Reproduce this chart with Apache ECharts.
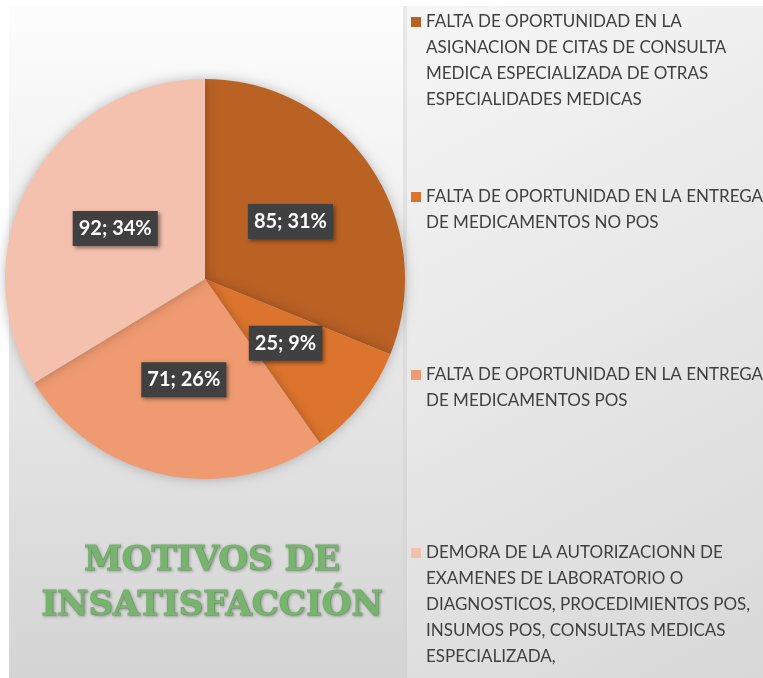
<!DOCTYPE html>
<html>
<head>
<meta charset="utf-8">
<script src="https://cdn.jsdelivr.net/npm/echarts@6/dist/echarts.min.js"></script>
<style>
  html, body { margin: 0; padding: 0; background: #fff; }
  #chart { width: 763px; height: 678px; }
</style>
</head>
<body>
<div id="chart"></div>
<script>
// categorias (cada linea del texto de la leyenda)
var categories = [
  ['FALTA DE OPORTUNIDAD EN LA', 'ASIGNACION DE CITAS DE CONSULTA', 'MEDICA ESPECIALIZADA DE OTRAS', 'ESPECIALIDADES MEDICAS'],
  ['FALTA DE OPORTUNIDAD EN LA ENTREGA', 'DE MEDICAMENTOS NO POS'],
  ['FALTA DE OPORTUNIDAD EN LA ENTREGA', 'DE MEDICAMENTOS POS'],
  ['DEMORA DE LA AUTORIZACIONN DE', 'EXAMENES DE LABORATORIO O', 'DIAGNOSTICOS, PROCEDIMIENTOS POS,', 'INSUMOS POS, CONSULTAS MEDICAS', 'ESPECIALIZADA,']
];
var values = [85, 25, 71, 92];
var colors = ['#BA6124', '#DD742D', '#EF9A70', '#F4C1AF'];
var titleLines = ['MOTIVOS DE', 'INSATISFACCIÓN'];

var names = categories.map(function (c) { return c.join('\n'); });
var legendFirstLine = [22, 197, 375, 553]; // centro de la primera linea
var lineH = 26;

var chart = echarts.init(document.getElementById('chart'));

// una leyenda por item; lineas vacias arriba para que el cuadro quede en la primera linea
var legends = names.map(function (n, i) {
  var nl = categories[i].length;
  return {
    data: [n],
    orient: 'vertical',
    left: 411,
    top: legendFirstLine[i] - (2 * nl - 1) * lineH / 2,
    padding: 0,
    itemWidth: 10,
    itemHeight: 10,
    icon: 'rect',
    selectedMode: false,
    formatter: function (name) {
      return new Array(nl).join('\u00a0\n') + name;
    },
    textStyle: {
      color: '#404040',
      fontFamily: 'Lato',
      fontSize: 17,
      lineHeight: lineH
    }
  };
});

var option = {
  animation: false,
  color: colors,
  graphic: [
    {
      type: 'rect', z: -10, silent: true,
      shape: { x: 9, y: 6, width: 394, height: 672 },
      style: {
        fill: new echarts.graphic.LinearGradient(0, 0, 0, 1, [
          { offset: 0, color: '#fdfdfd' },
          { offset: 1, color: '#d4d4d4' }
        ])
      }
    },
    {
      type: 'rect', z: -10, silent: true,
      shape: { x: 403, y: 6, width: 360, height: 672 },
      style: {
        fill: new echarts.graphic.LinearGradient(0, 0, 1, 1, [
          { offset: 0, color: '#f6f6f6' },
          { offset: 1, color: '#d8d8d8' }
        ])
      }
    },
    {
      type: 'rect', z: -9, silent: true,
      shape: { x: 403, y: 6, width: 4, height: 672 },
      style: { fill: 'rgba(0,0,0,0.05)' }
    },
    {
      type: 'text', silent: true,
      x: 212, y: 584,
      style: {
        text: titleLines.join('\n'),
        align: 'center',
        verticalAlign: 'middle',
        fill: '#78B36F',
        stroke: '#78B36F',
        lineWidth: 1.2,
        font: 'bold 34px "DejaVu Serif"',
        lineHeight: 45,
        textShadowColor: 'rgba(0,0,0,0.25)',
        textShadowBlur: 3,
        textShadowOffsetX: 1,
        textShadowOffsetY: 1
      }
    }
  ],
  legend: legends,
  series: [{
    type: 'pie',
    center: [205, 279],
    radius: 200,
    startAngle: 90,
    clockwise: true,
    itemStyle: {
      shadowBlur: 12,
      shadowColor: 'rgba(0,0,0,0.25)'
    },
    label: {
      position: 'inside',
      formatter: function (p) { return p.value + '; ' + Math.round(p.percent) + '%'; },
      color: '#fff',
      fontFamily: 'Lato',
      fontWeight: 'bold',
      fontSize: 20,
      backgroundColor: '#404040',
      padding: [8, 6, 7, 6],
      shadowBlur: 4,
      shadowOffsetX: 2,
      shadowOffsetY: 2,
      shadowColor: 'rgba(0,0,0,0.45)'
    },
    labelLine: { show: false },
    emphasis: { disabled: true },
    data: names.map(function (n, i) { return { name: n, value: values[i] }; })
  }]
};

chart.setOption(option);
</script>
</body>
</html>
